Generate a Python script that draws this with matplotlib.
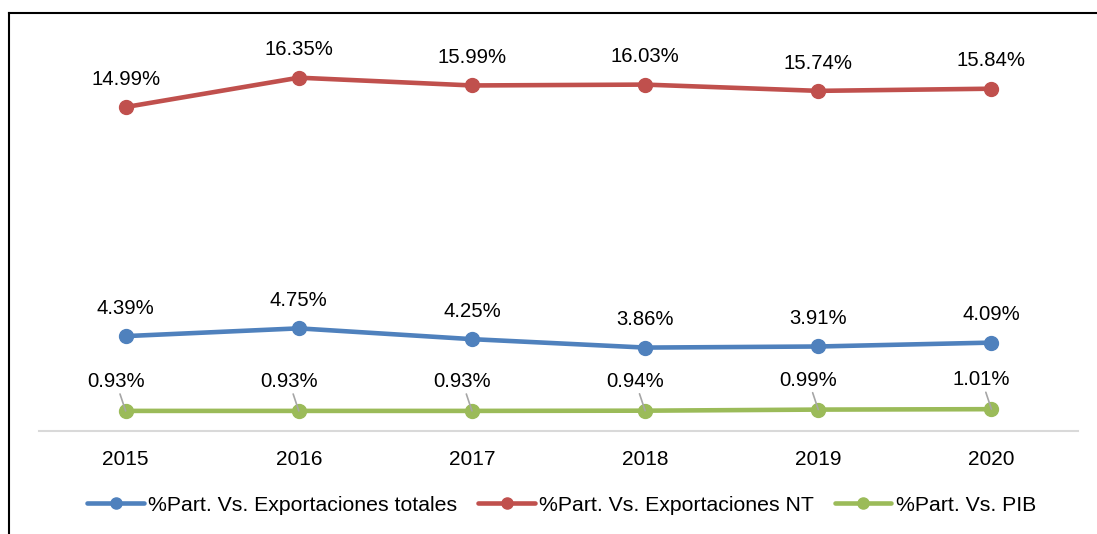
import matplotlib.pyplot as plt
from matplotlib.lines import Line2D

plt.rcParams['font.family'] = ['Liberation Sans', 'DejaVu Sans']

# data
years = ["2015", "2016", "2017", "2018", "2019", "2020"]
totales = [4.39, 4.75, 4.25, 3.86, 3.91, 4.09]
nt = [14.99, 16.35, 15.99, 16.03, 15.74, 15.84]
pib = [0.93, 0.93, 0.93, 0.94, 0.99, 1.01]

series = [
    ("%Part. Vs. Exportaciones totales", totales, "#4F81BD"),
    ("%Part. Vs. Exportaciones NT", nt, "#C0504D"),
    ("%Part. Vs. PIB", pib, "#9BBB59"),
]

fig = plt.figure(figsize=(10.97, 5.34), dpi=100)
ax = fig.add_axes([0.0356, 0.1929, 0.9471, 0.7284])

x = list(range(len(years)))
for name, vals, col in series:
    ax.plot(x, vals, color=col, lw=3.3, marker="o", ms=10,
            solid_capstyle="round", label=name, zorder=2)

# data labels
for name, vals, col in series:
    for xi, v in zip(x, vals):
        if vals is pib:
            ax.annotate(f"{v:.2f}%", (xi, v), xytext=(-7, 21),
                        textcoords="offset points", ha="center", va="center",
                        fontsize=14.6, color="#000000",
                        arrowprops=dict(arrowstyle="-", color="#A6A6A6",
                                        lw=1.2, shrinkA=0, shrinkB=0))
        else:
            ax.annotate(f"{v:.2f}%", (xi, v), xytext=(0, 20),
                        textcoords="offset points", ha="center", va="center",
                        fontsize=14.6, color="#000000")

ax.set_xlim(-0.5, 5.5)
ax.set_ylim(0, 18)
ax.set_xticks(x)
ax.set_xticklabels(years, fontsize=15)
ax.tick_params(axis="x", length=0, pad=14)
ax.set_yticks([])
for s in ["top", "right", "left"]:
    ax.spines[s].set_visible(False)
ax.spines["bottom"].set_color("#D9D9D9")
ax.spines["bottom"].set_linewidth(1.5)

fig.legend(loc="center", bbox_to_anchor=(0.512, 0.054), ncol=3, frameon=False,
           fontsize=15.3, handlelength=2.65, handletextpad=0.2, columnspacing=1.0,
           markerscale=0.8)

# outer frame (top and left edges)
fig.add_artist(Line2D([9 / 1097, 1.0], [1 - 13 / 534, 1 - 13 / 534],
                      color="#000000", lw=1.5, transform=fig.transFigure))
fig.add_artist(Line2D([9 / 1097, 9 / 1097], [0.0, 1 - 13 / 534],
                      color="#000000", lw=1.5, transform=fig.transFigure))

fig.savefig("out.png", dpi=100)
